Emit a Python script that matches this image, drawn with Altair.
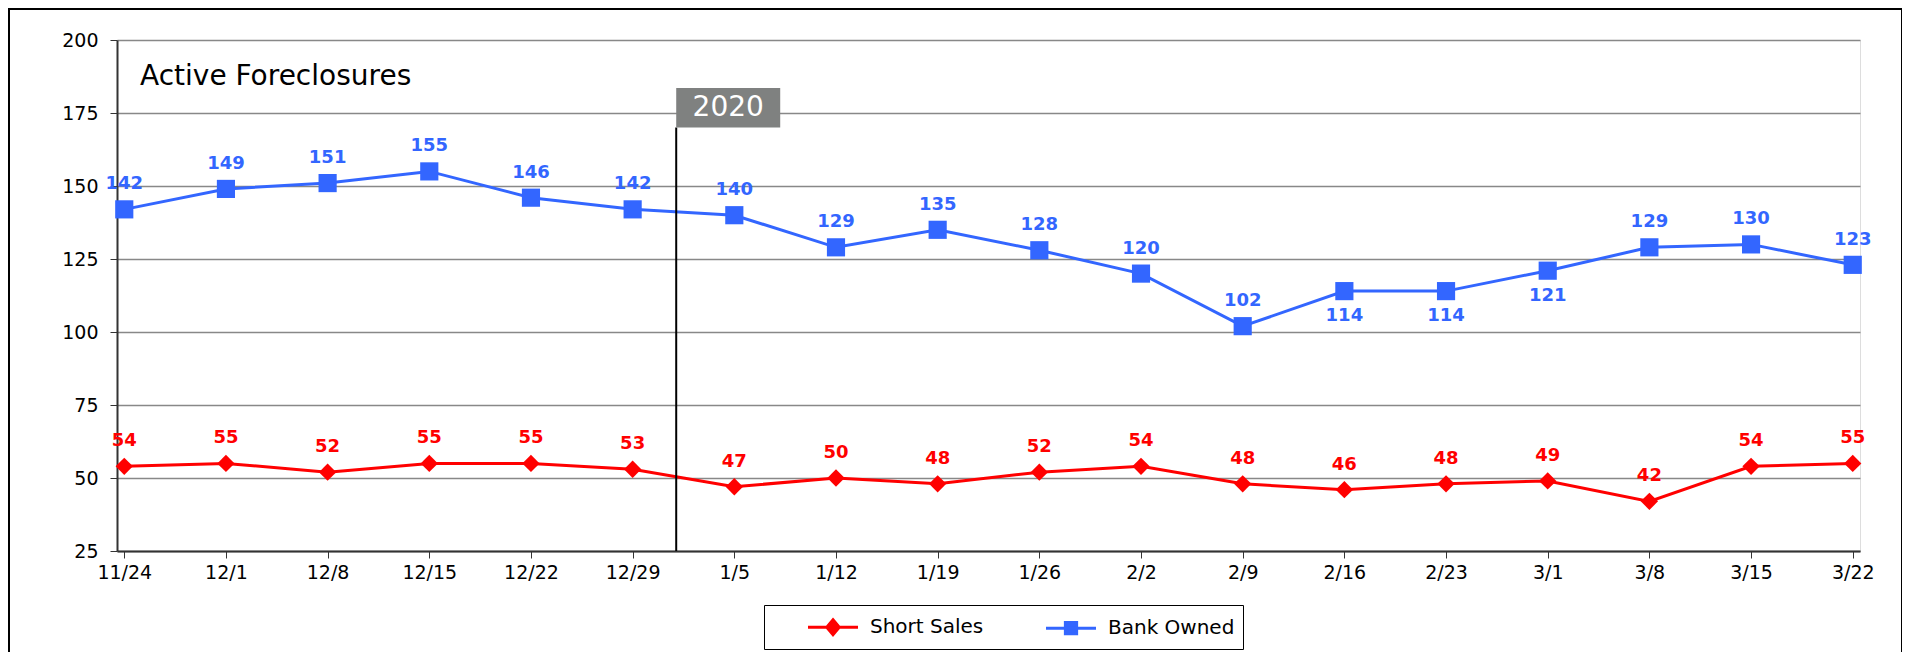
import altair as alt
import pandas as pd

# ---------------- data ----------------
dates = ["2019-11-24", "2019-12-01", "2019-12-08", "2019-12-15", "2019-12-22", "2019-12-29",
         "2020-01-05", "2020-01-12", "2020-01-19", "2020-01-26", "2020-02-02", "2020-02-09",
         "2020-02-16", "2020-02-23", "2020-03-01", "2020-03-08", "2020-03-15", "2020-03-22"]
short_sales = [54, 55, 52, 55, 55, 53, 47, 50, 48, 52, 54, 48, 46, 48, 49, 42, 54, 55]
bank_owned = [142, 149, 151, 155, 146, 142, 140, 129, 135, 128, 120, 102, 114, 114, 121, 129, 130, 123]
short_label_pos = ["above"] * 18
bank_label_pos = ["above"] * 12 + ["below"] * 3 + ["above"] * 3

series_names = ["Short Sales", "Bank Owned"]
series_colors = ["#ff0000", "#3366ff"]
y_ticks = [25, 50, 75, 100, 125, 150, 175, 200]

marker_date = ["2020-01-01"]
marker_label = ["2020"]
marker_rule_bottom = [25]
marker_box_bottom = [170]
marker_box_top = [183.6]

chart_title = "Active Foreclosures"
FONT = "DejaVu Sans"

# ---------------- tables ----------------
rows = []
for d, v, p in zip(dates, short_sales, short_label_pos):
    rows.append({"date": d + "T00:00:00", "series": "Short Sales", "value": v, "pos": p})
for d, v, p in zip(dates, bank_owned, bank_label_pos):
    rows.append({"date": d + "T00:00:00", "series": "Bank Owned", "value": v, "pos": p})
df = pd.DataFrame(rows)

marker_df = pd.DataFrame({
    "date": [d + "T00:00:00" for d in marker_date],
    "label": marker_label,
    "y0": marker_rule_bottom,
    "y1": marker_box_bottom,
    "y2": marker_box_top,
})
marker_df["ymid"] = (marker_df["y1"] + marker_df["y2"]) / 2


def dt(s, hours=0):
    y, m, d = s.split("-")
    return alt.DateTime(year=int(y), month=int(m), date=int(d), hours=hours)


x_scale = alt.Scale(domain=[dt("2019-11-23", 12), dt("2020-03-22", 12)])
x_axis = alt.Axis(values=[dt(d) for d in dates], format="%-m/%-d", labelFontSize=19,
                  labelFont=FONT, labelColor="#000", tickSize=7,
                  labelPadding=5, grid=False, domainColor="#333", domainWidth=2,
                  tickColor="#333", labelFlush=False)
y_scale = alt.Scale(domain=[25, 200], nice=False, zero=False)
y_axis = alt.Axis(values=y_ticks, labelFontSize=19, labelFont=FONT,
                  labelColor="#000", tickSize=7, labelPadding=12, grid=True,
                  gridColor="#888", gridWidth=1.5, domainColor="#333", domainWidth=2,
                  tickColor="#333")

X = alt.X("date:T", scale=x_scale, axis=x_axis, title=None)
Y = alt.Y("value:Q", scale=y_scale, axis=y_axis, title=None)
color_scale = alt.Scale(domain=series_names, range=series_colors)
C = alt.Color("series:N", scale=color_scale, legend=None)

base = alt.Chart(df)

# legend: line + marker symbols
path_short = "M-2,0H2M0,-0.6L0.5,0L0,0.6L-0.5,0Z"
path_bank = "M-2,0H2M-0.45,-0.45H0.45V0.45H-0.45Z"


def make_legend():
    return alt.Legend(
        title=" ", titleOrient="left", titlePadding=47,
        orient="none", legendX=647, legendY=565,
        direction="horizontal", labelFontSize=20, labelFont=FONT,
        labelColor="#000", symbolSize=625, symbolStrokeWidth=3,
        strokeColor="#000", fillColor="#fff", padding=8,
        columnPadding=56, labelOffset=23, symbolOpacity=1,
        labelExpr="datum.label == 'Bank Owned' ? datum.label + '         ' : datum.label")


lines = base.mark_line(strokeWidth=3).encode(x=X, y=Y, color=C, detail="series:N")

pts_short = base.transform_filter(alt.datum.series == "Short Sales").mark_point(
    shape="diamond", filled=True, size=300, opacity=1).encode(x=X, y=Y, color=C)
pts_bank = base.transform_filter(alt.datum.series == "Bank Owned").mark_point(
    shape="square", filled=True, size=330, opacity=1).encode(x=X, y=Y, color=C)

labels_above = base.transform_filter(alt.datum.pos == "above").mark_text(
    dy=-25, fontSize=18, fontWeight="bold", font=FONT).encode(
    x=X, y=Y, color=C, text="value:Q")
labels_below = base.transform_filter(alt.datum.pos == "below").mark_text(
    dy=25, fontSize=18, fontWeight="bold", font=FONT).encode(
    x=X, y=Y, color=C, text="value:Q")

legend_layer = base.mark_point(filled=True, strokeWidth=3, opacity=0).encode(
    x=X, y=Y,
    color=alt.Color("series:N", scale=color_scale, legend=make_legend()),
    stroke=alt.Stroke("series:N", scale=alt.Scale(domain=series_names, range=series_colors),
                      legend=None),
    shape=alt.Shape("series:N",
                    scale=alt.Scale(domain=series_names, range=[path_short, path_bank]),
                    legend=make_legend()))

# 2020 marker
mbase = alt.Chart(marker_df)
mX = alt.X("date:T", scale=x_scale, axis=x_axis, title=None)
m_rule = mbase.mark_rule(color="#000", strokeWidth=2).encode(
    x=mX, y=alt.Y("y0:Q", scale=y_scale, axis=y_axis, title=None), y2="y1:Q")
m_box = mbase.mark_rect(color="#7f8180", x2Offset=104).encode(
    x=mX, x2="date:T", y=alt.Y("y1:Q", scale=y_scale, axis=y_axis, title=None), y2="y2:Q")
m_text = mbase.mark_text(color="#fff", fontSize=28, font=FONT, dx=52,
                         align="center", baseline="middle").encode(
    x=mX, y=alt.Y("ymid:Q", scale=y_scale, axis=y_axis, title=None), text="label:N")

one = alt.Data(values=[{"a": 1}])
title_text = alt.Chart(one).mark_text(
    align="left", baseline="alphabetic", fontSize=28, font=FONT,
    color="#000").encode(
    x=alt.value(23), y=alt.value(45), text=alt.value(chart_title))

frame = alt.Chart(one).mark_rect(filled=False, stroke="#000", strokeWidth=2).encode(
    x=alt.value(-108), x2=alt.value(1785), y=alt.value(-31), y2=alt.value(700))

chart = alt.layer(
    frame, legend_layer, lines, pts_short, pts_bank, labels_above, labels_below,
    m_rule, m_box, m_text, title_text
).properties(
    width=1743, height=511,
    autosize=alt.AutoSizeParams(type="none"),
    padding={"left": 109, "top": 32, "right": 42, "bottom": 101},
).configure_view(
    fill="#f2f2f2", stroke="#888", strokeWidth=2
).configure(background="#ffffff")

chart.save("out.html", embed_options={"renderer": "svg", "actions": False})
